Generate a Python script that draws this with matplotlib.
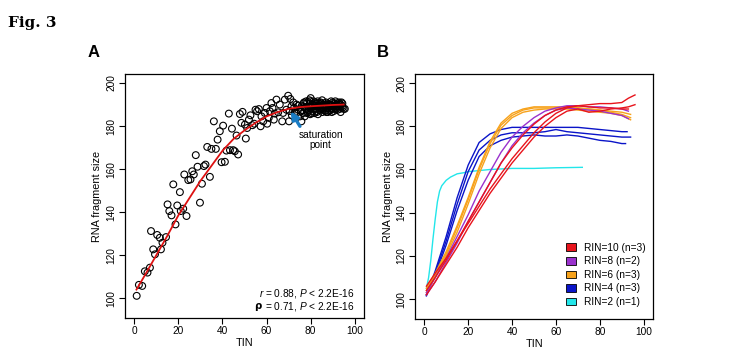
import matplotlib
matplotlib.use("Agg")
import matplotlib.pyplot as plt
from matplotlib.patches import Patch

plt.rcParams['font.family'] = ['Liberation Sans', 'DejaVu Sans']
plt.rcParams['mathtext.fontset'] = 'custom'
plt.rcParams['mathtext.it'] = 'Liberation Sans:italic'
plt.rcParams['mathtext.rm'] = 'Liberation Sans'

# ---------------- Panel A data ----------------
tin_low = [1.1, 2.1, 3.6, 4.8, 6.0, 7.1, 7.6, 8.6, 9.4, 10.4, 11.6, 12.1, 12.8, 14.4, 15.1, 15.9,
           16.9, 17.7, 18.7, 19.5, 20.7, 21.1, 22.2, 22.7, 23.7, 24.5, 25.5, 26.3, 27.0, 27.9, 28.7,
           29.8, 30.7, 31.6, 32.3, 33.1, 34.3, 35.0, 36.1, 37.0, 37.8, 38.8, 39.6, 40.3, 41.1, 41.8,
           42.9, 43.4, 44.3, 44.9, 45.6, 46.4, 47.1, 47.9, 48.6, 49.1, 50.2, 50.6, 51.2, 52.0, 52.7,
           53.6, 54.4, 55.0, 55.7, 56.5, 57.3, 57.7, 58.5, 59.2, 60.0, 60.3, 61.0, 61.5, 62.2, 62.7,
           63.3, 63.7, 64.5, 65.3, 66.0, 67.1, 67.5, 68.3, 69.0, 69.8, 70.2, 70.8, 71.3, 72.1, 72.8,
           73.6, 74.3, 75.1, 75.8]
size_low = [101.1, 106.2, 105.7, 112.5, 111.9, 114.2, 131.2, 122.7, 120.4, 129.4, 128.1, 122.7, 125.8,
            128.4, 143.6, 140.5, 138.5, 152.9, 134.3, 143.1, 149.3, 140.5, 141.6, 157.5, 138.2, 154.9,
            155.2, 159.0, 157.5, 166.5, 161.1, 144.4, 153.2, 161.4, 162.1, 170.3, 156.4, 169.4, 182.2,
            169.4, 173.7, 177.6, 163.2, 180.2, 163.4, 168.6, 185.8, 168.8, 178.8, 168.8, 168.3, 175.6,
            166.8, 185.6, 181.5, 186.6, 180.7, 174.2, 179.1, 183.0, 185.0, 180.4, 181.1, 187.6, 186.9,
            187.9, 179.9, 184.5, 182.2, 186.1, 188.4, 181.1, 183.8, 186.9, 190.7, 188.4, 183.0, 185.8,
            192.3, 186.4, 190.0, 182.2, 186.1, 192.3, 187.6, 194.1, 182.2, 192.6, 189.2, 191.0, 186.1,
            190.0, 187.6, 184.5, 182.2]
tin_high = [76.0, 76.5, 77.0, 77.3, 77.8, 78.2, 78.6, 79.0, 79.4, 79.8, 80.2, 80.6, 81.0, 81.3, 81.7,
            82.1, 82.5, 82.9, 83.3, 83.7, 84.1, 84.5, 84.9, 85.3, 85.7, 86.1, 86.5, 86.9, 87.3, 87.7,
            88.1, 88.5, 88.9, 89.3, 89.7, 90.1, 90.5, 90.9, 91.3, 91.7, 92.1, 92.5, 92.9, 93.3, 93.7,
            94.1, 94.5, 95.0,
            70.5, 71.5, 72.5, 73.5, 74.5, 75.5, 76.8, 77.6, 78.4, 79.2, 80.0, 80.8, 81.6, 82.4, 83.2,
            84.0, 84.8, 85.6, 86.4, 87.2, 88.0, 88.8, 89.6, 90.4, 91.2, 92.0, 92.8, 93.6, 94.4,
            76.2, 77.1, 78.0, 78.9, 79.6, 80.4, 81.2, 82.0, 82.8, 83.6, 84.4, 85.2, 86.0, 86.8, 87.6,
            88.4, 89.2, 90.0, 90.8, 91.6, 92.4, 93.2, 94.0, 95.5, 80.0]
size_high = [189.5, 186.0, 191.0, 184.5, 188.0, 190.5, 186.5, 189.0, 192.0, 185.5, 188.5, 190.0, 187.0,
             191.5, 186.0, 189.5, 188.0, 190.5, 185.5, 189.0, 187.5, 191.0, 188.0, 186.5, 190.0, 189.0,
             187.0, 191.0, 188.5, 186.5, 190.0, 189.5, 187.5, 191.5, 188.0, 189.0, 187.0, 190.5, 188.5,
             190.0, 187.5, 189.5, 191.0, 188.0, 190.0, 189.0, 188.5, 188.0,
             187.0, 185.0, 188.5, 186.0, 189.5, 187.0, 190.5, 188.5, 186.0, 187.5, 191.5, 189.0, 188.0,
             187.0, 191.5, 189.5, 190.5, 188.5, 189.5, 186.5, 188.5, 190.0, 186.5, 188.0, 191.5, 189.0,
             190.0, 186.5, 190.5,
             187.5, 189.0, 191.5, 187.5, 190.5, 186.0, 189.5, 191.0, 186.5, 190.5, 188.5, 192.0, 188.0,
             190.0, 190.5, 187.0, 190.0, 191.0, 189.5, 188.0, 190.5, 189.0, 191.0, 188.0, 193.0]

fit_x = [1, 5, 10, 15, 20, 25, 30, 35, 40, 45, 50, 55, 60, 65, 70, 75, 80, 85, 90, 95]
fit_y = [104, 111, 120, 129, 138.5, 146.5, 154.5, 161.5, 168.5, 174, 178, 181.5, 184.5, 186.5,
         188, 188.8, 189.2, 189.5, 189.8, 190]

# ---------------- Panel B data ----------------
x_std = [1, 5, 10, 15, 20, 25, 30, 35, 40, 45, 50, 55, 60, 65, 70, 75, 80, 85, 90]

red_x = [x_std + [93, 96], x_std + [93, 96], x_std + [93]]
red_y = [[106, 112, 119, 127, 135, 143, 151, 158, 165, 171, 177, 182, 186, 188.5, 189.5, 190, 190.5, 190.5, 191, 193, 194.5],
         [102, 108, 116, 124, 133, 141, 149, 156, 163, 169, 175, 180, 184, 187, 188, 186.5, 187, 188, 188.5, 189, 190],
         [104, 110, 118, 127, 136, 145, 154, 163, 170, 176, 181, 185, 187.5, 189, 189.5, 189, 188.5, 188.5, 188, 188]]

purple_x = [x_std + [93], x_std + [93]]
purple_y = [[103, 110, 119, 129, 139, 150, 159, 168, 175, 180, 184, 187, 188.5, 189.5, 189.5, 189, 189, 188.5, 188, 187],
            [102, 108, 117, 126, 136, 145, 154, 163, 171, 177, 181.5, 185, 187.5, 188.5, 188, 187.5, 187, 186, 185, 183.5]]

orange_x = [x_std + [94], x_std + [94], x_std + [94]]
orange_y = [[104, 111, 121, 133, 146, 160, 172, 180.5, 185, 187.5, 188.5, 188.5, 188.5, 188.5, 188.5, 188, 187.5, 186.5, 185.5, 184],
            [103, 110, 120, 131, 144, 158, 170, 179, 184, 186.5, 187.5, 188, 188, 188, 187.5, 187, 186.5, 186, 185, 183],
            [105, 112, 122, 134, 147, 161, 173, 181.5, 186, 188, 189, 189, 189, 189, 188.5, 188, 187.5, 187, 186.5, 185.5]]

blue_x = [x_std + [92.4], x_std + [94], x_std + [91.7]]
blue_y = [[102, 113, 129, 147, 162, 172.5, 176.5, 178.5, 179.5, 179.5, 179.5, 179.5, 179.5, 179.5, 179.5, 179, 178.5, 178, 177.5, 177.5],
          [101.5, 112, 127, 144, 159, 169, 173.5, 176, 177, 177, 177, 177.5, 178.5, 177.5, 177, 176.5, 176, 175.5, 175, 175],
          [102, 111, 125, 141, 155, 166, 171, 173.5, 175, 175.5, 176, 175.5, 175.5, 176, 175.5, 174.5, 173.5, 173, 172, 172]]

cyan_x = [[1, 2, 3, 4, 5, 6, 7, 8, 10, 12, 15, 18, 20, 25, 30, 40, 50, 60, 72]]
cyan_y = [[105, 110, 118, 128, 137, 145, 150, 152.5, 155, 156.5, 158, 158.5, 159, 159.5, 160, 160.5, 160.5, 160.8, 161]]

legend_labels = ["RIN=10 (n=3)", "RIN=8 (n=2)", "RIN=6 (n=3)", "RIN=4 (n=3)", "RIN=2 (n=1)"]
legend_colors = ["#e8141c", "#9a32cd", "#f7a21b", "#0a14c8", "#22e6ea"]

x_ticks = [0, 20, 40, 60, 80, 100]
y_ticks = [100, 120, 140, 160, 180, 200]

# ---------------- Figure ----------------
fig = plt.figure(figsize=(7.3, 3.64), dpi=100)
axA = fig.add_axes([125 / 730, 1 - 318 / 364, 239 / 730, 244 / 364])
axB = fig.add_axes([415 / 730, 1 - 319 / 364, 238 / 730, 245 / 364])

fs = 7.3


def style(ax):
    ax.set_xlim(-4.2, 104.2)
    ax.set_ylim(90.8, 204.2)
    ax.set_xticks(x_ticks)
    ax.set_yticks(y_ticks)
    ax.tick_params(direction='out', length=4, width=0.8, labelsize=fs, pad=2)
    for lab in ax.get_yticklabels():
        lab.set_rotation(90)
        lab.set_va('center')
    for s in ax.spines.values():
        s.set_linewidth(0.9)
    ax.set_xlabel("TIN", fontsize=fs + 0.5, labelpad=1)
    ax.set_ylabel("RNA fragment size", fontsize=fs + 0.5, labelpad=3)


# Panel A
axA.scatter(tin_low + tin_high, size_low + size_high, s=24, facecolors='none',
            edgecolors='black', linewidths=0.8, zorder=2)
axA.plot(fit_x, fit_y, color='#dd1111', lw=1.3, zorder=3)
axA.annotate("", xy=(70.3, 188.0), xytext=(75.8, 178.8),
             arrowprops=dict(arrowstyle='-|>', color='#1a7cc4', lw=2.4,
                             mutation_scale=11), zorder=4)
axA.text(84.5, 173.5, "saturation\npoint", ha='center', va='center', fontsize=fs,
         linespacing=1.1)
axA.text(100, 102.3, r"$r$ = 0.88, $P$ < 2.2E-16", ha='right', va='center', fontsize=fs)
t2 = axA.text(100, 96.2, r"= 0.71, $P$ < 2.2E-16", ha='right', va='center', fontsize=fs)
axA.annotate("ρ ", xy=(0, 0.5), xycoords=t2, ha='right', va='center', fontsize=fs,
             fontweight='bold', family=['DejaVu Sans'])
style(axA)

# Panel B
groups = [(red_x, red_y, legend_colors[0]), (purple_x, purple_y, legend_colors[1]),
          (orange_x, orange_y, legend_colors[2]), (blue_x, blue_y, legend_colors[3]),
          (cyan_x, cyan_y, legend_colors[4])]
for xs, ys, col in reversed(groups):
    for xx, yy in zip(xs, ys):
        axB.plot(xx, yy, color=col, lw=1.0, zorder=2)
handles = [Patch(facecolor=c, edgecolor='black', linewidth=0.6) for c in legend_colors]
axB.legend(handles, legend_labels, loc='lower right', bbox_to_anchor=(1.0, 0.02),
           frameon=False, fontsize=fs, handlelength=1.0, handleheight=0.8,
           handletextpad=0.8, labelspacing=0.35, borderaxespad=0.3)
style(axB)

fig.text(8 / 730, 1 - 27 / 364, "Fig. 3", fontsize=11, fontweight='bold',
         family=['DejaVu Serif'], ha='left', va='baseline')
fig.text(88 / 730, 1 - 57 / 364, "A", fontsize=12, fontweight='bold', ha='left', va='baseline')
fig.text(377 / 730, 1 - 57 / 364, "B", fontsize=12, fontweight='bold', ha='left', va='baseline')

fig.savefig("out.png", dpi=100)
